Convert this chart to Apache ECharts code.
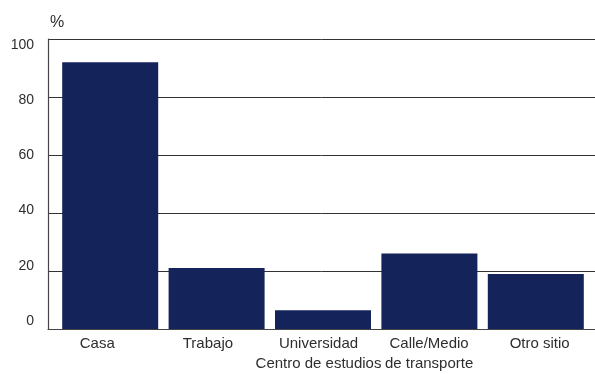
<!DOCTYPE html>
<html>
<head>
<meta charset="utf-8">
<script src="https://cdn.jsdelivr.net/npm/echarts@6/dist/echarts.min.js"></script>
<style>
  html, body { margin: 0; padding: 0; background: #fff; }
  #chart { width: 595px; height: 374px; }
</style>
</head>
<body>
<div id="chart"></div>
<script>
const categories = ['Casa', 'Trabajo', 'Universidad\nCentro de estudios', 'Calle/Medio\nde transporte', 'Otro sitio'];
const values = [92, 21, 6.5, 26, 19];
const yMin = 0, yMax = 100, yStep = 20;
const barColor = '#15235b';
const textColor = '#2e2e2e';
const font = '"Liberation Sans", Arial, sans-serif';

const hidden = { axisLine: { show: false }, axisTick: { show: false }, axisLabel: { show: false }, splitLine: { show: false } };

const chart = echarts.init(document.getElementById('chart'), null, { renderer: 'canvas' });
chart.setOption({
  animation: false,
  backgroundColor: '#ffffff',
  grid: [
    { left: 48, right: 0, top: 39, bottom: 45 },   // frame: gridlines + axis lines
    { left: 57, right: 6, top: 39, bottom: 45 },   // bars
    { left: 42, right: -6, top: 45, bottom: 48 }   // tick/category labels
  ],
  xAxis: [
    {
      gridIndex: 0, type: 'value', min: 0, max: 1,
      axisLine: { show: true, lineStyle: { color: '#444', width: 1.2 } },
      axisTick: { show: false }, axisLabel: { show: false }, splitLine: { show: false }
    },
    Object.assign({ gridIndex: 1, type: 'category', data: categories }, hidden),
    {
      gridIndex: 2, type: 'category', data: categories,
      axisLine: { show: false }, axisTick: { show: false }, splitLine: { show: false },
      axisLabel: { color: textColor, fontFamily: font, fontSize: 15, lineHeight: 20, margin: 13, interval: 0 }
    }
  ],
  yAxis: [
    {
      gridIndex: 0, type: 'value', min: yMin, max: yMax, interval: yStep,
      name: '%', nameLocation: 'end', nameGap: 8,
      nameTextStyle: { color: textColor, fontFamily: font, fontSize: 16, align: 'left', padding: [0, 0, 0, 2] },
      axisLine: { show: true, lineStyle: { color: '#444', width: 1.2 } },
      axisTick: { show: false }, axisLabel: { show: false },
      splitLine: { show: true, lineStyle: { color: '#333', width: 1 } }
    },
    Object.assign({ gridIndex: 1, type: 'value', min: yMin, max: yMax, interval: yStep }, hidden),
    {
      gridIndex: 2, type: 'value', min: yMin, max: yMax, interval: yStep,
      axisLine: { show: false }, axisTick: { show: false }, splitLine: { show: false },
      axisLabel: { color: textColor, fontFamily: font, fontSize: 14, margin: 8 }
    }
  ],
  series: [{
    type: 'bar',
    xAxisIndex: 1, yAxisIndex: 1,
    data: values,
    barWidth: 96,
    itemStyle: { color: barColor },
    z: 3
  }]
});
</script>
</body>
</html>
